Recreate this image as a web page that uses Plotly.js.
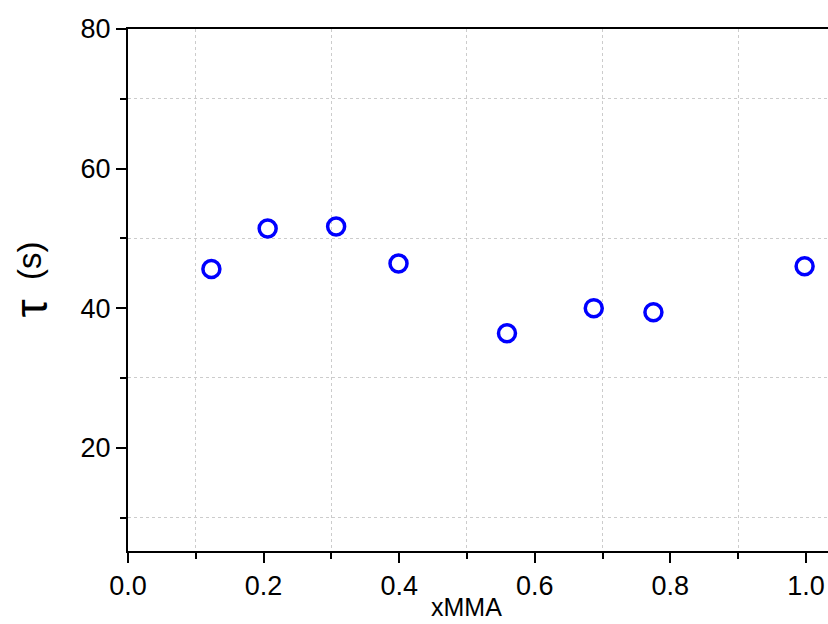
<!DOCTYPE html>
<html>
<head>
<meta charset="utf-8">
<script src="https://cdn.plot.ly/plotly-3.0.1.min.js"></script>
<style>html,body{margin:0;padding:0;background:#fff;}#chart{width:828px;height:624px;}</style>
</head>
<body>
<div id="chart"></div>
<script>
const xMMA = [0.123, 0.206, 0.307, 0.399, 0.559, 0.687, 0.775, 0.998];
const tau = [45.6, 51.4, 51.7, 46.4, 36.4, 40.0, 39.4, 46.0];
const xTickVals = [0.0, 0.2, 0.4, 0.6, 0.8, 1.0];
const xTickText = ['0.0', '0.2', '0.4', '0.6', '0.8', '1.0'];
const yTickVals = [20, 40, 60, 80];
const yTickText = ['20', '40', '60', '80'];

const trace = {
  x: xMMA, y: tau, type: 'scatter', mode: 'markers',
  marker: {symbol: 'circle-open', size: 17, color: '#0000ff', line: {width: 3.5, color: '#0000ff'}},
  showlegend: false, hoverinfo: 'skip'
};

const font = {family: 'Liberation Sans, Arial, sans-serif', color: '#000'};

const layout = {
  width: 828, height: 624,
  margin: {l: 128, r: 0, t: 29, b: 73, pad: 0},
  paper_bgcolor: '#fff', plot_bgcolor: '#fff',
  font: font,
  xaxis: {
    range: [0, 1.0325], tickmode: 'array', tickvals: xTickVals, ticktext: xTickText,
    ticks: 'outside', ticklen: 10, tickwidth: 2, tickcolor: '#000',
    showline: true, linewidth: 2, linecolor: '#000', mirror: true,
    showgrid: false, zeroline: false,
    tickfont: {size: 27, family: font.family, color: '#000'},
    minor: {dtick: 0.2, tick0: 0.1, ticks: 'outside', ticklen: 6, tickwidth: 2, tickcolor: '#000',
            showgrid: true, gridcolor: '#cccccc', gridwidth: 1, griddash: 'dot'}
  },
  yaxis: {
    range: [5.2, 80], tickmode: 'array', tickvals: yTickVals, ticktext: yTickText,
    ticks: 'outside', ticklen: 10, tickwidth: 2, tickcolor: '#000',
    showline: true, linewidth: 2, linecolor: '#000', mirror: false,
    showgrid: false, zeroline: false,
    tickfont: {size: 27, family: font.family, color: '#000'},
    minor: {dtick: 20, tick0: 10, ticks: 'outside', ticklen: 6, tickwidth: 2, tickcolor: '#000',
            showgrid: true, gridcolor: '#cccccc', gridwidth: 1, griddash: 'dot'}
  },
  annotations: [
    {text: 'xMMA', xref: 'paper', yref: 'paper', x: 0.483, y: -0.108,
     xanchor: 'center', yanchor: 'middle', showarrow: false,
     font: {size: 25, family: font.family, color: '#000'}},
    {text: 'τ', xref: 'paper', yref: 'paper', x: -0.138, y: 0.4655,
     xanchor: 'center', yanchor: 'middle', textangle: -90, showarrow: false,
     font: {size: 46, family: font.family, color: '#000'}},
    {text: '(s)', xref: 'paper', yref: 'paper', x: -0.14, y: 0.5556,
     xanchor: 'center', yanchor: 'middle', textangle: -90, showarrow: false,
     font: {size: 33, family: font.family, color: '#000'}}
  ]
};

Plotly.newPlot('chart', [trace], layout, {staticPlot: true, displayModeBar: false});
</script>
</body>
</html>
